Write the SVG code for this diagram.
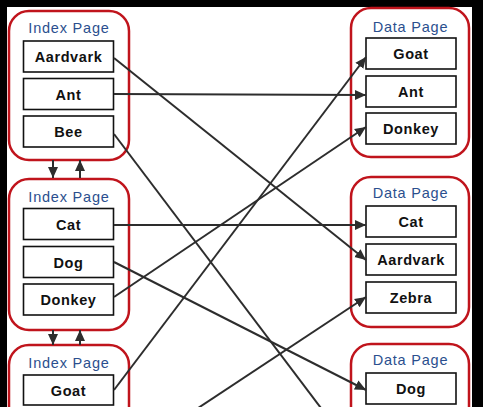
<svg xmlns="http://www.w3.org/2000/svg" width="483" height="407" viewBox="0 0 483 407">
<defs>
<style>
.page{fill:#fff;stroke:#c0141c;stroke-width:2.5}
.box{fill:#fff;stroke:#111;stroke-width:1.6}
.title{font-family:"Liberation Sans",Arial,sans-serif;font-size:14.5px;fill:#2b4f8e;text-anchor:middle;letter-spacing:0.8px}
.lbl{font-family:"Liberation Sans",Arial,sans-serif;font-size:14.5px;font-weight:bold;fill:#111;text-anchor:middle;letter-spacing:0.6px}
.conn{stroke:#2d2d2d;stroke-width:2;fill:none}
</style>
<marker id="ah" markerUnits="userSpaceOnUse" markerWidth="12" markerHeight="12" viewBox="0 0 12 12" refX="11" refY="6" orient="auto">
<path d="M0,1 L11,6 L0,11 Z" fill="#2d2d2d"/>
</marker>
</defs>
<rect x="0" y="0" width="483" height="407" fill="#000"/>
<rect x="7" y="7" width="465" height="400" fill="#fff"/>

<g id="index1">
<rect class="page" x="9" y="11" width="120" height="149" rx="20"/>
<text class="title" x="69" y="33">Index Page</text>
<rect class="box" x="23.5" y="41" width="90" height="31"/>
<text class="lbl" x="68.5" y="62">Aardvark</text>
<rect class="box" x="23.5" y="78.5" width="90" height="31"/>
<text class="lbl" x="68.5" y="99.5">Ant</text>
<rect class="box" x="23.5" y="116" width="90" height="31"/>
<text class="lbl" x="68.5" y="137">Bee</text>
</g>

<g id="index2">
<rect class="page" x="9" y="179" width="120" height="151" rx="20"/>
<text class="title" x="69" y="202">Index Page</text>
<rect class="box" x="23.5" y="208.5" width="90" height="31"/>
<text class="lbl" x="68.5" y="229.5">Cat</text>
<rect class="box" x="23.5" y="246.5" width="90" height="31"/>
<text class="lbl" x="68.5" y="267.5">Dog</text>
<rect class="box" x="23.5" y="284" width="90" height="31"/>
<text class="lbl" x="68.5" y="305">Donkey</text>
</g>

<g id="index3">
<rect class="page" x="9" y="345" width="120" height="150" rx="20"/>
<text class="title" x="69" y="368">Index Page</text>
<rect class="box" x="23.5" y="375" width="90" height="30"/>
<text class="lbl" x="68.5" y="395.5">Goat</text>
</g>

<g id="data1">
<rect class="page" x="351" y="8" width="118" height="149" rx="20"/>
<text class="title" x="410.5" y="32">Data Page</text>
<rect class="box" x="366" y="38" width="90" height="31"/>
<text class="lbl" x="411" y="59">Goat</text>
<rect class="box" x="366" y="76" width="90" height="31"/>
<text class="lbl" x="411" y="97">Ant</text>
<rect class="box" x="366" y="113" width="90" height="31"/>
<text class="lbl" x="411" y="134">Donkey</text>
</g>

<g id="data2">
<rect class="page" x="351" y="177" width="118" height="150" rx="20"/>
<text class="title" x="410.5" y="198">Data Page</text>
<rect class="box" x="366" y="206" width="90" height="31"/>
<text class="lbl" x="411" y="227">Cat</text>
<rect class="box" x="366" y="244" width="90" height="31"/>
<text class="lbl" x="411" y="265">Aardvark</text>
<rect class="box" x="366" y="282" width="90" height="31"/>
<text class="lbl" x="411" y="303">Zebra</text>
</g>

<g id="data3">
<rect class="page" x="351" y="344" width="118" height="150" rx="20"/>
<text class="title" x="410.5" y="365">Data Page</text>
<rect class="box" x="366" y="373" width="90" height="31"/>
<text class="lbl" x="411" y="394">Dog</text>
</g>

<g id="connectors">
<line class="conn" x1="114" y1="58" x2="366" y2="260" marker-end="url(#ah)"/>
<line class="conn" x1="114" y1="94" x2="366" y2="95" marker-end="url(#ah)"/>
<line class="conn" x1="114" y1="134" x2="330" y2="420"/>
<line class="conn" x1="114" y1="225" x2="366" y2="225" marker-end="url(#ah)"/>
<line class="conn" x1="114" y1="262" x2="366" y2="390" marker-end="url(#ah)"/>
<line class="conn" x1="114" y1="297" x2="366" y2="127" marker-end="url(#ah)"/>
<line class="conn" x1="114" y1="390" x2="366" y2="57" marker-end="url(#ah)"/>
<line class="conn" x1="180" y1="420" x2="366" y2="297" marker-end="url(#ah)"/>
<line class="conn" x1="53" y1="160" x2="53" y2="178" marker-end="url(#ah)"/>
<line class="conn" x1="80" y1="178" x2="80" y2="160" marker-end="url(#ah)"/>
<line class="conn" x1="53" y1="330" x2="53" y2="345" marker-end="url(#ah)"/>
<line class="conn" x1="80" y1="345" x2="80" y2="330" marker-end="url(#ah)"/>
</g>
</svg>
